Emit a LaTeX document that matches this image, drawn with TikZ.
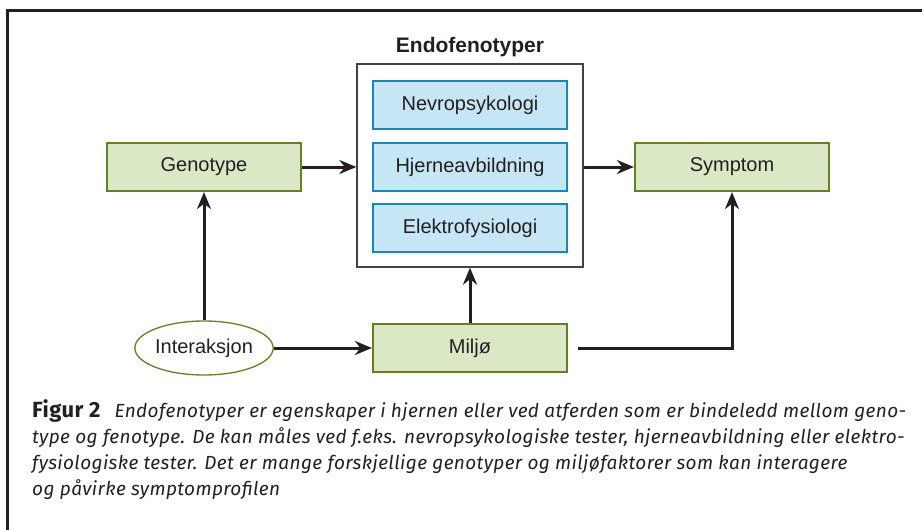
\documentclass[tikz,border=0pt]{standalone}
\usepackage{fontspec}
\setmainfont{Liberation Sans}
\newfontfamily\capfont[LetterSpace=2]{Fira Sans}
\usepackage{xcolor}
\usepackage{tikz}
\usetikzlibrary{shapes.geometric, arrows.meta}

\definecolor{boxgreen}{HTML}{DAE8C6}
\definecolor{linegreen}{HTML}{6B7D24}
\definecolor{boxblue}{HTML}{C6E6F6}
\definecolor{lineblue}{HTML}{1A86B6}
\definecolor{ink}{HTML}{231F20}

\tikzset{
    greenbox/.style={draw=linegreen, fill=boxgreen, line width=2.2pt, text=ink,
        minimum width=194pt, minimum height=48pt, inner sep=0pt,
        font=\fontsize{20}{24}\selectfont},
    bluebox/.style={greenbox, draw=lineblue, fill=boxblue},
    oval/.style={ellipse, draw=linegreen, fill=white, line width=1.3pt, text=ink,
        minimum width=137pt, minimum height=54pt, inner sep=0pt,
        font=\fontsize{20}{24}\selectfont},
    link/.style={draw=ink, line width=3pt, ->, >={Stealth[length=17pt,width=14pt]}}
}

\begin{document}
\begin{tikzpicture}[x=1pt, y=-1pt]
        \useasboundingbox (0,0) rectangle (922,530);
        \draw[ink, line width=3pt] (7,530) -- (7,10) -- (922,10);

        \node[draw=ink!85, line width=1.3pt, minimum width=226pt, minimum height=203pt] (endo) at (470,165.5) {};
        \node[text=ink, font=\bfseries\fontsize{21}{24}\selectfont] (endotitle) at (470,47) {Endofenotyper};
        \node[bluebox] (nevro) at (470,105) {Nevropsykologi};
        \node[bluebox] (hjerne) at (470,167) {Hjerneavbildning};
        \node[bluebox] (elektro) at (470,228) {Elektrofysiologi};

        \node[greenbox] (genotype) at (204,167) {Genotype};
        \node[greenbox] (symptom) at (732,167) {Symptom};
        \node[greenbox] (miljo) at (470,348) {Miljø};
        \node[oval] (inter) at (204,348) {Interaksjon};

        % Genotype -> Endofenotyper -> Symptom
        \draw[link] (genotype.east) -- (genotype -| endo.west);
        \draw[link] (endo.east |- symptom) -- (symptom.west);

        % Interaksjon -> Genotype, Miljø
        \draw[link] (inter.north) -- (genotype.south);
        \draw[link] (inter.east) -- (miljo.west);

        % Miljø -> Endofenotyper
        \draw[link] (miljo.north) -- (endo.south);

        % Miljø -> Symptom
        \draw[link] ([xshift=10pt]miljo.east) -- (symptom |- miljo) -- (symptom.south);

        % caption (base = last line)
        \node[anchor=base west, align=left, inner sep=0pt, text=ink,
            font=\capfont\itshape\fontsize{19}{25.7}\selectfont] (caption) at (32,495)
            {{\bfseries\upshape\fontsize{22}{25.7}\selectfont Figur 2}\hspace{14pt}Endofenotyper er egenskaper i hjernen eller ved atferden som er bindeledd mellom geno-\\
            type og fenotype. De kan måles ved f.eks. nevropsykologiske tester, hjerneavbildning eller elektro-\\
            fysiologiske tester. Det er mange forskjellige genotyper og miljøfaktorer som kan interagere\\
            og påvirke symptomprofilen};
    \end{tikzpicture}
\end{document}
